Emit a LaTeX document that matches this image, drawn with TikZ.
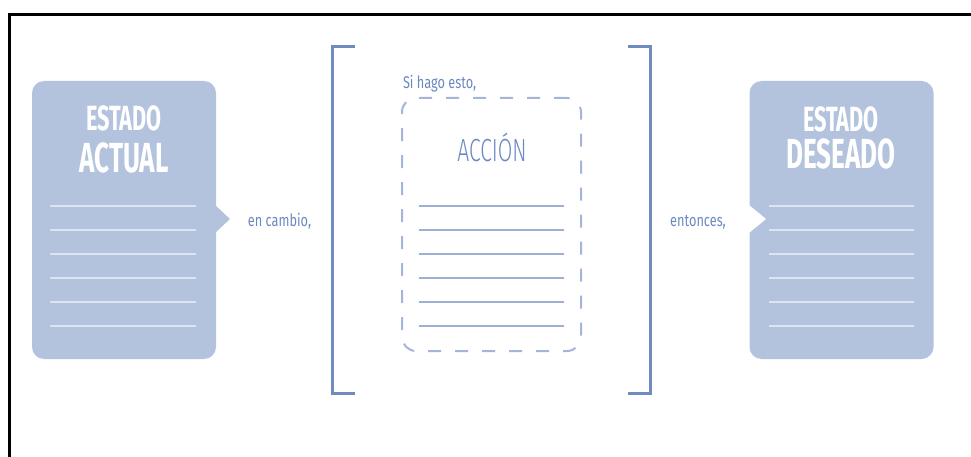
\documentclass[tikz,border=0pt]{standalone}
\usepackage{fontspec}
\setmainfont{Fira Sans}
\newfontfamily\titlefont[FakeStretch=0.62]{Fira Sans}
\newfontfamily\labelfont[FakeStretch=0.75]{Fira Sans}
\newfontfamily\actionfont[FakeStretch=0.66]{Fira Sans Light}
\definecolor{boxblue}{HTML}{B3C3DE}
\definecolor{rulewhite}{HTML}{DDE4F1}
\definecolor{inkblue}{HTML}{6A88C2}
\definecolor{bracketblue}{HTML}{6F8BC2}
\definecolor{dashblue}{HTML}{A4B5D9}
\definecolor{ruleblue}{HTML}{9CAFD5}

\begin{document}
\begin{tikzpicture}[x=1pt, y=-1pt, every node/.style={inner sep=0pt, outer sep=0pt},
	statebox/.style={fill=boxblue, rounded corners=12pt, minimum width=184pt, minimum height=278pt},
	actionbox/.style={draw=dashblue, line width=2pt, dash pattern=on 13pt off 14pt, rounded corners=14pt, minimum width=179pt, minimum height=253pt},
	title/.style={text=white, anchor=base, font=\titlefont\bfseries},
	smalltext/.style={text=inkblue, font=\labelfont\fontsize{17}{17}\selectfont},
	bracket/.style={draw=bracketblue, line width=3pt}]
	\useasboundingbox (0,0) rectangle (971,457);
	\draw[line width=3pt] (9.5,457) -- (9.5,14.5) -- (971,14.5);
	\node[statebox] (actual) at (124,220) {};
	\node[statebox] (deseado) at (841.5,220) {};
	\fill[boxblue] (215,205) -- (230,219) -- (215,233) -- cycle;
	\fill[white] (749,205) -- (766,219) -- (749,233) -- cycle;
	\node[actionbox] (accion) at (491.5,224.5) {};
	\foreach \y in {206,230,...,326} {
		\draw[rulewhite, line width=1.3pt] (50,\y) -- (196,\y);
		\draw[rulewhite, line width=1.3pt] (769,\y) -- (914,\y);
		\draw[ruleblue, line width=1.6pt] (419,\y) -- (564,\y);
	}
	\node[title, font=\titlefont\bfseries\fontsize{35}{35}\selectfont] (actual1) at (124,131) {ESTADO};
	\node[title, font=\titlefont\bfseries\fontsize{42}{42}\selectfont] (actual2) at (124,172) {ACTUAL};
	\node[title, font=\titlefont\bfseries\fontsize{35}{35}\selectfont] (deseado1) at (841,132) {ESTADO};
	\node[title, font=\titlefont\bfseries\fontsize{42}{42}\selectfont] (deseado2) at (841,169) {DESEADO};
	\node[text=inkblue, anchor=base, font=\actionfont\fontsize{32}{32}\selectfont] (acciontxt) at (492,162) {ACCIÓN};
	\node[smalltext, anchor=base west] (si) at (403,89) {Si hago esto,};
	\node[smalltext, anchor=base] (encambio) at (279.5,226) {en cambio,};
	\node[smalltext, anchor=base] (entonces) at (698,226) {entonces,};
	\draw[bracket] (355,47) -- (332,47) -- (332,393) -- (355,393);
	\draw[bracket] (628,47) -- (650,47) -- (650,393) -- (628,393);
\end{tikzpicture}
\end{document}
